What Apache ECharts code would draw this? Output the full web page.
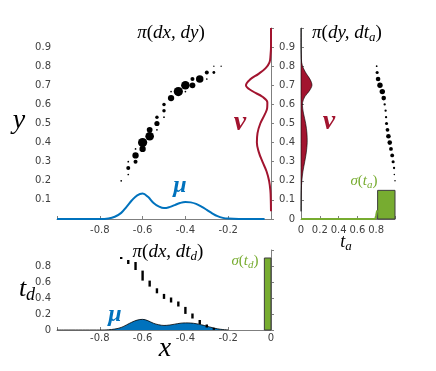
<!DOCTYPE html>
<html><head><meta charset="utf-8">
<script src="https://cdn.jsdelivr.net/npm/echarts/dist/echarts.min.js"></script>
<style>html,body{margin:0;padding:0;background:#fff}#c{width:436px;height:371px}</style>
</head><body><div id="c"></div>
<script>
// ---------- data ----------
// marginal mu(x)
const muX = [-1.0, -0.8, -0.76, -0.73, -0.70, -0.675, -0.65, -0.625, -0.60, -0.575, -0.55, -0.525, -0.50, -0.475, -0.45, -0.425, -0.40, -0.375, -0.35, -0.325, -0.30, -0.275, -0.25, -0.225, -0.20, -0.15, -0.03];
const muV = [0, 0, 0.003, 0.012, 0.032, 0.064, 0.098, 0.124, 0.133, 0.116, 0.085, 0.066, 0.057, 0.062, 0.073, 0.084, 0.089, 0.087, 0.079, 0.065, 0.048, 0.030, 0.015, 0.006, 0.002, 0, 0];
// marginal nu(y)
const nuY = [0.04, 0.10, 0.15, 0.20, 0.25, 0.30, 0.35, 0.40, 0.45, 0.50, 0.55, 0.58, 0.61, 0.64, 0.67, 0.70, 0.73, 0.76, 0.79, 0.82, 0.86, 0.90, 1.00];
const nuV = [0, 0.001, 0.003, 0.009, 0.021, 0.040, 0.057, 0.066, 0.063, 0.050, 0.028, 0.018, 0.017, 0.040, 0.088, 0.117, 0.098, 0.058, 0.025, 0.007, 0.002, 0, 0];
// coupling pi(dx,dy)
const piXY_x = [-0.700,-0.667,-0.667,-0.667,-0.633,-0.633,-0.633,-0.600,-0.600,-0.567,-0.567,-0.533,-0.533,-0.533,-0.500,-0.500,-0.500,-0.467,-0.467,-0.433,-0.400,-0.400,-0.367,-0.367,-0.333,-0.300,-0.300,-0.267,-0.267,-0.233];
const piXY_y = [0.200,0.233,0.267,0.300,0.300,0.333,0.367,0.367,0.400,0.433,0.467,0.467,0.500,0.533,0.533,0.567,0.600,0.633,0.667,0.667,0.667,0.700,0.700,0.733,0.733,0.733,0.767,0.767,0.800,0.800];
const piXY_m = [1.5,1.5,3.5,1.5,3.5,5.5,1.5,5.5,8,7.5,5,1.5,4.5,3,1.5,3,3,5.5,1.5,8,1.5,7.5,5,3.5,6.5,1.5,3.5,2.5,1.2,1.2];
// coupling pi(dy,dt_a)
const piYTa_y = [0.800,0.767,0.733,0.700,0.667,0.633,0.600,0.567,0.533,0.500,0.467,0.433,0.400,0.367,0.333,0.300,0.267,0.233,0.200];
const piYTa_t = [0.805,0.810,0.820,0.840,0.865,0.880,0.890,0.900,0.905,0.910,0.920,0.930,0.944,0.957,0.970,0.980,0.990,0.993,1.000];
const piYTa_m = [1.5,2.7,4,4.7,4.7,4,2,2,2,2.7,3.3,4,4,3.3,3.3,2.7,2,1.3,1.3];
// coupling pi(dx,dt_d)
const piXTd_x = [-0.700,-0.667,-0.633,-0.600,-0.567,-0.533,-0.500,-0.467,-0.433,-0.400,-0.367,-0.333,-0.300,-0.267];
const piXTd_t = [0.90,0.85,0.80,0.68,0.58,0.49,0.42,0.375,0.325,0.245,0.175,0.10,0.05,0.015];
const piXTd_m = [2,4,8,10,6,5,5,5,5,7,5,4,3,2];
// sigma(t_a), sigma(t_d)
const sigA_line_t = [0, 0.79, 0.80, 0.81];
const sigA_line_v = [0, 0, 0.02, 0.045];
const sigA_bin = [0.815, 1.0], sigA_h = 0.15;
const sigD_bin = [-0.031, 0.0], sigD_h = 0.90;
// tick labels
const tlX1 = ['-0.8','-0.6','-0.4','-0.2'];
const tlY1 = ['0.1','0.2','0.3','0.4','0.5','0.6','0.7','0.8','0.9'];
const tlX2 = ['0','0.2','0.4','0.6','0.8'];
const tlY2 = ['0','0.1','0.2','0.3','0.4','0.5','0.6','0.7','0.8','0.9'];
const tlX3 = ['-0.8','-0.6','-0.4','-0.2','0'];
const tlY3 = ['0','0.2','0.4','0.6','0.8'];

// ---------- styles ----------
const BLUE = '#0072BD', RED = '#A2142F', GREEN = '#77AC30';
const AX = '#7f7f7f', LBL = '#404040';
const MASS_PX = 1.15;
function fmt(list) {
  return v => { let s = (Math.round(v * 10) / 10).toFixed(1); if (s === '0.0' || s === '-0.0') s = '0'; return list.indexOf(s) >= 0 ? s : ''; };
}
function axis(kind, gi, min, max, interval, list, margin) {
  return {
    type: 'value', gridIndex: gi, min, max, interval,
    axisLine: { show: true, lineStyle: { color: AX, width: 1 } },
    axisTick: { show: true, inside: true, length: 3, lineStyle: { color: AX } },
    splitLine: { show: false },
    axisLabel: { formatter: fmt(list), fontFamily: 'DejaVu Sans', fontSize: 10, color: LBL, margin: margin, showMinLabel: true, showMaxLabel: true }
  };
}

const serif = 'Liberation Serif';
function rich(size, color) {
  return {
    i: { fontFamily: serif, fontStyle: 'italic', fontSize: size, fill: color },
    u: { fontFamily: serif, fontSize: size, fill: color },
    s: { fontFamily: serif, fontStyle: 'italic', fontSize: Math.round(size * 0.7), fill: color, padding: [Math.round(size * 0.5), 0, 0, 0] }
  };
}
function txt(x, y, text, size, color) {
  return { type: 'text', x, y, z: 100, style: { text, rich: rich(size, color), fill: color, align: 'center', verticalAlign: 'middle', fontSize: size, fontFamily: serif } };
}
function greek(x, y, ch, size, color) {
  return { type: 'text', x, y, z: 100, style: { text: ch, fill: color, align: 'center', verticalAlign: 'middle', font: 'italic bold ' + size + 'px ' + serif } };
}
const DOT = { color: '#000', opacity: 1 };

const chart = echarts.init(document.getElementById('c'), null, { renderer: 'canvas' });
const option = {
  animation: false,
  backgroundColor: '#fff',
  grid: [
    { left: 57, top: 28, width: 214, height: 191 },
    { left: 301, top: 28, width: 94, height: 191 },
    { left: 57, top: 250, width: 214, height: 80 }
  ],
  xAxis: [
    axis('x', 0, -1, 0, 0.2, tlX1, 6),
    axis('x', 1, 0, 1, 0.2, tlX2, 6),
    axis('x', 2, -1, 0, 0.2, tlX3, 3)
  ],
  yAxis: [
    axis('y', 0, 0, 1, 0.1, tlY1, 6),
    axis('y', 1, 0, 1, 0.1, tlY2, 6),
    axis('y', 2, 0, 1, 0.2, tlY3, 6)
  ],
  series: [
    { type: 'line', xAxisIndex: 0, yAxisIndex: 0, showSymbol: false, smooth: 0.4, clip: false, z: 3,
      data: muX.map((x, i) => [x, muV[i]]), lineStyle: { color: BLUE, width: 2 } },
    { type: 'line', xAxisIndex: 0, yAxisIndex: 0, showSymbol: false, smooth: 0.4, clip: false, z: 3,
      data: nuY.map((y, i) => [-nuV[i], y]), lineStyle: { color: RED, width: 2 } },
    { type: 'scatter', xAxisIndex: 0, yAxisIndex: 0, z: 4,
      data: piXY_x.map((x, i) => [x, piXY_y[i], piXY_m[i]]), symbolSize: v => v[2] * MASS_PX, itemStyle: DOT },
    { type: 'custom', xAxisIndex: 1, yAxisIndex: 1, z: 3, data: [[0, 0]],
      renderItem: (p, api) => {
        const pts = nuY.map((y, i) => api.coord([nuV[i], y]));
        pts.push(api.coord([0, nuY[nuY.length - 1]]));
        pts.push(api.coord([0, nuY[0]]));
        return { type: 'polygon', shape: { points: pts, smooth: 0.3 }, style: { fill: RED, stroke: '#000', lineWidth: 0.6 } };
      } },
    { type: 'scatter', xAxisIndex: 1, yAxisIndex: 1, z: 4, clip: false,
      data: piYTa_t.map((t, i) => [t, piYTa_y[i], piYTa_m[i]]), symbolSize: v => v[2] * MASS_PX, itemStyle: DOT },
    { type: 'line', xAxisIndex: 1, yAxisIndex: 1, showSymbol: false, clip: false, z: 5,
      data: sigA_line_t.map((t, i) => [t, sigA_line_v[i]]), lineStyle: { color: GREEN, width: 2 } },
    { type: 'custom', xAxisIndex: 1, yAxisIndex: 1, z: 5, data: [[sigA_bin[0], sigA_h]],
      renderItem: (p, api) => {
        const a = api.coord([sigA_bin[0], sigA_h]), b = api.coord([sigA_bin[1], 0]);
        return { type: 'rect', shape: { x: a[0], y: a[1], width: b[0] - a[0], height: b[1] - a[1] }, style: { fill: GREEN, stroke: '#3c3c3c', lineWidth: 1 } };
      } },
    { type: 'line', xAxisIndex: 2, yAxisIndex: 2, showSymbol: false, smooth: 0.4, z: 3,
      data: muX.filter(x => x <= -0.2).map((x, i) => [x, muV[i]]),
      lineStyle: { color: '#000', width: 0.8 }, areaStyle: { color: BLUE, opacity: 1 } },
    { type: 'scatter', xAxisIndex: 2, yAxisIndex: 2, z: 4, clip: false, symbol: 'rect',
      data: piXTd_x.map((x, i) => [x, piXTd_t[i], piXTd_m[i]]), symbolSize: v => [2.4, v[2]], itemStyle: DOT },
    { type: 'custom', xAxisIndex: 2, yAxisIndex: 2, z: 5, data: [[sigD_bin[0], sigD_h]],
      renderItem: (p, api) => {
        const a = api.coord([sigD_bin[0], sigD_h]), b = api.coord([sigD_bin[1], 0]);
        return { type: 'rect', shape: { x: a[0], y: a[1], width: b[0] - a[0], height: b[1] - a[1] }, style: { fill: GREEN, stroke: '#3c3c3c', lineWidth: 1 } };
      } }
  ],
  graphic: [
    txt(171, 33, '{i|π}{u|(}{i|dx, dy}{u|)}', 19, '#000'),
    txt(347, 33, '{i|π}{u|(}{i|dy, dt}{s|a}{u|)}', 19, '#000'),
    txt(168, 252, '{i|π}{u|(}{i|dx, dt}{s|d}{u|)}', 19, '#000'),
    txt(19, 121, '{i|y}', 28, '#000'),
    txt(165, 349, '{i|x}', 28, '#000'),
    txt(27, 289, '{i|t}{s|d}', 26, '#000'),
    txt(346, 242, '{i|t}{s|a}', 18, '#000'),
    txt(364, 181, '{i|σ}{u|(}{i|t}{s|a}{u|)}', 15, GREEN),
    txt(245, 261, '{i|σ}{u|(}{i|t}{s|d}{u|)}', 15, GREEN),
    greek(240, 123, 'ν', 28, RED),
    greek(329, 122, 'ν', 28, RED),
    greek(180, 186, 'μ', 24, BLUE),
    greek(115, 315, 'μ', 24, BLUE)
  ]
};
chart.setOption(option);
</script></body></html>
